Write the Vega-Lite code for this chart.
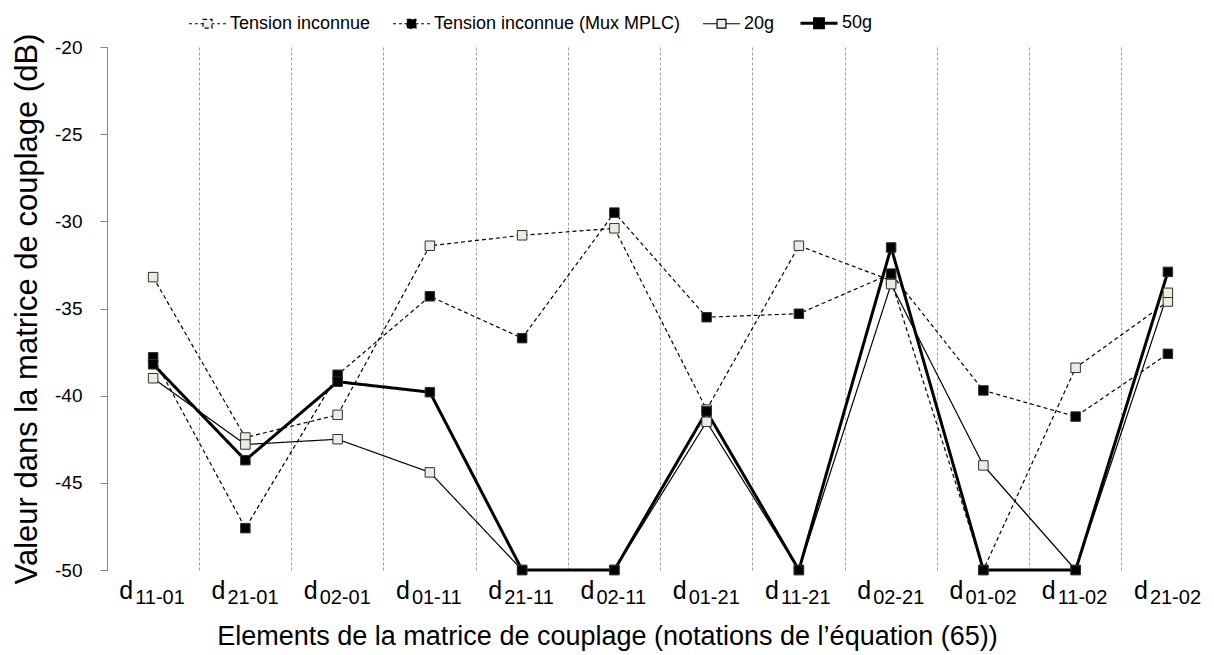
{
  "$schema": "https://vega.github.io/schema/vega-lite/v6.json",
  "width": 1107,
  "height": 523,
  "autosize": {"type": "none"},
  "padding": {"left": 107, "top": 47, "right": 0, "bottom": 85},
  "background": "white",
  "config": {
    "view": {"stroke": null},
    "font": "Liberation Sans",
    "axis": {"labelFont": "Liberation Sans", "titleFont": "Liberation Sans", "labelColor": "black", "titleColor": "black", "titleFontWeight": "normal"}
  },
  "data": {
    "values": [
      {"cat": "11-01", "series": "Tension inconnue", "v": -33.2},
      {"cat": "21-01", "series": "Tension inconnue", "v": -42.4},
      {"cat": "02-01", "series": "Tension inconnue", "v": -41.1},
      {"cat": "01-11", "series": "Tension inconnue", "v": -31.4},
      {"cat": "21-11", "series": "Tension inconnue", "v": -30.8},
      {"cat": "02-11", "series": "Tension inconnue", "v": -30.4},
      {"cat": "01-21", "series": "Tension inconnue", "v": -40.8},
      {"cat": "11-21", "series": "Tension inconnue", "v": -31.4},
      {"cat": "02-21", "series": "Tension inconnue", "v": -33.4},
      {"cat": "01-02", "series": "Tension inconnue", "v": -50},
      {"cat": "11-02", "series": "Tension inconnue", "v": -38.4},
      {"cat": "21-02", "series": "Tension inconnue", "v": -34.6},
      {"cat": "11-01", "series": "Tension inconnue (Mux MPLC)", "v": -37.8},
      {"cat": "21-01", "series": "Tension inconnue (Mux MPLC)", "v": -47.6},
      {"cat": "02-01", "series": "Tension inconnue (Mux MPLC)", "v": -38.8},
      {"cat": "01-11", "series": "Tension inconnue (Mux MPLC)", "v": -34.3},
      {"cat": "21-11", "series": "Tension inconnue (Mux MPLC)", "v": -36.7},
      {"cat": "02-11", "series": "Tension inconnue (Mux MPLC)", "v": -29.5},
      {"cat": "01-21", "series": "Tension inconnue (Mux MPLC)", "v": -35.5},
      {"cat": "11-21", "series": "Tension inconnue (Mux MPLC)", "v": -35.3},
      {"cat": "02-21", "series": "Tension inconnue (Mux MPLC)", "v": -33.0},
      {"cat": "01-02", "series": "Tension inconnue (Mux MPLC)", "v": -39.7},
      {"cat": "11-02", "series": "Tension inconnue (Mux MPLC)", "v": -41.2},
      {"cat": "21-02", "series": "Tension inconnue (Mux MPLC)", "v": -37.6},
      {"cat": "11-01", "series": "20g", "v": -39.0},
      {"cat": "21-01", "series": "20g", "v": -42.8},
      {"cat": "02-01", "series": "20g", "v": -42.5},
      {"cat": "01-11", "series": "20g", "v": -44.4},
      {"cat": "21-11", "series": "20g", "v": -50},
      {"cat": "02-11", "series": "20g", "v": -50},
      {"cat": "01-21", "series": "20g", "v": -41.5},
      {"cat": "11-21", "series": "20g", "v": -50},
      {"cat": "02-21", "series": "20g", "v": -33.6},
      {"cat": "01-02", "series": "20g", "v": -44.0},
      {"cat": "11-02", "series": "20g", "v": -50},
      {"cat": "21-02", "series": "20g", "v": -34.1},
      {"cat": "11-01", "series": "50g", "v": -38.2},
      {"cat": "21-01", "series": "50g", "v": -43.7},
      {"cat": "02-01", "series": "50g", "v": -39.2},
      {"cat": "01-11", "series": "50g", "v": -39.8},
      {"cat": "21-11", "series": "50g", "v": -50},
      {"cat": "02-11", "series": "50g", "v": -50},
      {"cat": "01-21", "series": "50g", "v": -40.9},
      {"cat": "11-21", "series": "50g", "v": -50},
      {"cat": "02-21", "series": "50g", "v": -31.5},
      {"cat": "01-02", "series": "50g", "v": -50},
      {"cat": "11-02", "series": "50g", "v": -50},
      {"cat": "21-02", "series": "50g", "v": -32.9}
    ]
  },
  "layer": [
    {
      "mark": {"type": "line", "clip": false},
      "encoding": {
        "x": {
          "field": "cat", "type": "ordinal",
          "sort": ["11-01","21-01","02-01","01-11","21-11","02-11","01-21","11-21","02-21","01-02","11-02","21-02"],
          "scale": {"type": "band", "paddingInner": 0, "paddingOuter": 0},
          "axis": {
            "orient": "bottom",
            "labelExpr": "'d'",
            "labelAngle": 0,
            "labelFontSize": 25,
            "labelAlign": "right",
            "labelBaseline": "alphabetic",
            "labelOffset": -20,
            "labelPadding": 28,
            "labelOverlap": false,
            "labelBound": false,
            "ticks": false,
            "tickSize": 0,
            "domain": false,
            "grid": true,
            "bandPosition": 0,
            "gridDash": [3, 2],
            "gridColor": "#a0a0a0",
            "gridWidth": 1,
            "title": "Elements de la matrice de couplage (notations de l’équation (65))",
            "titleFontSize": 27,
            "titleX": 500,
            "titleY": 74,
            "titleAlign": "center",
            "titleBaseline": "alphabetic"
          }
        },
        "y": {
          "field": "v", "type": "quantitative",
          "scale": {"domain": [-50, -20], "nice": false, "zero": false},
          "axis": {
            "values": [-50, -45, -40, -35, -30, -25, -20],
            "labelExpr": "'' + datum.value",
            "grid": false,
            "domainColor": "#868686",
            "tickColor": "#868686",
            "tickSize": 7,
            "labelFontSize": 19,
            "labelPadding": 18,
            "title": "Valeur dans la matrice de couplage (dB)",
            "titleFontSize": 31,
            "titlePadding": 11,
            "zindex": 1
          }
        },
        "color": {
          "field": "series", "type": "nominal",
          "scale": {"domain": ["Tension inconnue", "Tension inconnue (Mux MPLC)", "20g", "50g"], "range": ["black", "black", "black", "black"]},
          "legend": {
            "title": null,
            "orient": "none",
            "direction": "horizontal",
            "legendX": 81,
            "legendY": -44,
            "labelFont": "Liberation Sans",
            "labelFontSize": 18,
            "labelColor": "black",
            "labelLimit": 0,
            "labelOffset": 3,
            "columnPadding": 19,
            "symbolSize": 1369,
            "symbolStrokeColor": "black",
            "encode": {
              "symbols": {
                "update": {
                  "shape": {"signal": "datum.value == '20g' || datum.value == '50g' ? 'M-1,0H-0.24M0.24,0H1M-0.24,-0.24H0.24V0.24H-0.24Z' : 'M-1,0H-0.84M-0.68,0H-0.52M-0.38,0H-0.24M0.24,0H0.38M0.52,0H0.68M0.84,0H1M-0.24,-0.24H0.24V0.24H-0.24Z'"},
                  "fill": {"signal": "datum.value == 'Tension inconnue' || datum.value == '20g' ? '#eeece1' : 'black'"},
                  "stroke": {"value": "black"},
                  "strokeWidth": {"signal": "datum.value == '50g' ? 3 : 1.2"},
                  "strokeDash": {"value": [1, 0]},
                  "opacity": {"value": 1},
                  "fillOpacity": {"value": 1}
                }
              }
            }
          }
        },
        "strokeDash": {
          "field": "series", "type": "nominal",
          "scale": {"domain": ["Tension inconnue", "Tension inconnue (Mux MPLC)", "20g", "50g"], "range": [[4, 3], [4, 3], [1, 0], [1, 0]]},
          "legend": null
        },
        "strokeWidth": {
          "field": "series", "type": "nominal",
          "scale": {"type": "ordinal", "domain": ["Tension inconnue", "Tension inconnue (Mux MPLC)", "20g", "50g"], "range": [1.2, 1.2, 1.2, 3]},
          "legend": null
        }
      }
    },
    {
      "mark": {"type": "point", "shape": "square", "filled": true, "size": 90, "stroke": "#303030", "strokeWidth": 1, "opacity": 1, "clip": false},
      "encoding": {
        "x": {
          "field": "cat", "type": "ordinal",
          "sort": ["11-01","21-01","02-01","01-11","21-11","02-11","01-21","11-21","02-21","01-02","11-02","21-02"],
          "scale": {"type": "band", "paddingInner": 0, "paddingOuter": 0},
          "axis": {
            "orient": "bottom",
            "labelAngle": 0,
            "labelFontSize": 20,
            "labelAlign": "left",
            "labelBaseline": "alphabetic",
            "labelOffset": -18,
            "labelPadding": 33,
            "labelOverlap": false,
            "labelBound": false,
            "ticks": false,
            "tickSize": 0,
            "domain": false,
            "grid": false,
            "title": null
          }
        },
        "y": {"field": "v", "type": "quantitative"},
        "fill": {
          "field": "series", "type": "nominal",
          "scale": {"domain": ["Tension inconnue", "Tension inconnue (Mux MPLC)", "20g", "50g"], "range": ["#eeece1", "black", "#eeece1", "black"]},
          "legend": null
        }
      }
    }
  ],
  "resolve": {"axis": {"x": "independent"}}
}
